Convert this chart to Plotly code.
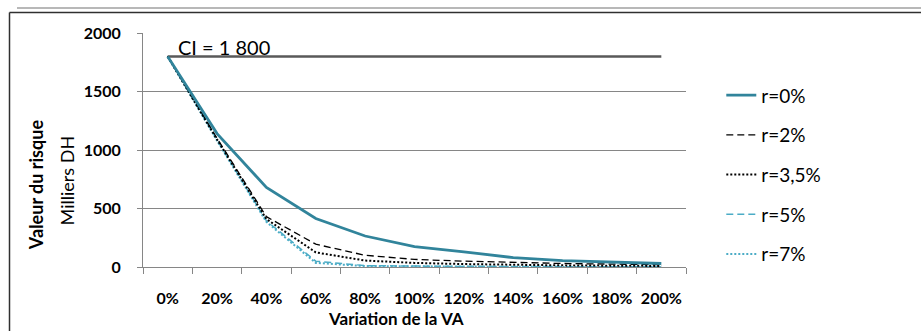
import plotly.graph_objects as go

# Categories (variation of VA) and risk values in thousands of DH
categories = ["0%", "20%", "40%", "60%", "80%", "100%", "120%", "140%", "160%", "180%", "200%"]
ci_value = 1800
r_0 = [1800, 1140, 680, 415, 265, 175, 130, 80, 55, 40, 30]
r_2 = [1800, 1100, 430, 195, 100, 65, 50, 38, 30, 25, 20]
r_35 = [1800, 1090, 410, 125, 55, 35, 25, 18, 14, 11, 9]
r_5 = [1800, 1085, 395, 50, 12, 6, 4, 3, 2, 2, 1]
r_7 = [1800, 1080, 385, 35, 8, 4, 3, 2, 1, 1, 1]
series_names = ["r=0%", "r=2%", "r=3,5%", "r=5%", "r=7%"]

TEAL = "#31849B"
LIGHT = "#4BACC6"
GRID = "#868686"
FONT = "Lato"

styles = [
    dict(color=TEAL, width=2.8, dash="solid"),
    dict(color="#000000", width=1.3, dash="7px,4px"),
    dict(color="#000000", width=2, dash="2px,2px"),
    dict(color=LIGHT, width=1.5, dash="7px,4px"),
    dict(color=LIGHT, width=2, dash="2px,2px"),
]

fig = go.Figure()

# Horizontal CI reference line
fig.add_trace(go.Scatter(
    x=categories, y=[ci_value] * len(categories), mode="lines",
    line=dict(color="#595959", width=2.5), showlegend=False, hoverinfo="skip",
))

# Draw the lightest series first so the teal r=0% stays on top
for idx in [4, 3, 2, 1, 0]:
    values = [r_0, r_2, r_35, r_5, r_7][idx]
    fig.add_trace(go.Scatter(
        x=categories, y=values, mode="lines", name=series_names[idx],
        line=styles[idx], legendgroup=series_names[idx], legendrank=idx,
    ))

fig.add_annotation(
    x=categories[0], y=ci_value, xref="x", yref="y", text="CI = 1 800",
    showarrow=False, xanchor="left", yanchor="bottom", xshift=8, yshift=-5,
    font=dict(family=FONT, size=20, color="#000000"),
)

# Axis titles
fig.add_annotation(
    x=-0.197, y=0.35, xref="paper", yref="paper", text="<b>Valeur du risque</b>",
    xanchor="center", yanchor="middle",
    showarrow=False, textangle=-90, font=dict(family=FONT, size=18, color="#000000"),
)
fig.add_annotation(
    x=-0.14, y=0.37, xref="paper", yref="paper", text="Milliers DH",
    xanchor="center", yanchor="middle",
    showarrow=False, textangle=-90, font=dict(family=FONT, size=18, color="#000000"),
)
fig.add_annotation(
    x=0.466, y=-0.22, xref="paper", yref="paper", text="<b>Variation de la VA</b>",
    xanchor="center", yanchor="middle",
    showarrow=False, font=dict(family=FONT, size=17, color="#000000"),
)

# Page frame lines around the chart
def px_x(p):
    return (p - 143) / 543

def px_y(p):
    return (267 - p) / 234

fig.add_shape(type="line", xref="paper", yref="paper", x0=px_x(17), x1=px_x(925),
              y0=px_y(8), y1=px_y(8), line=dict(color="#A0A0A0", width=1.5))
fig.add_shape(type="line", xref="paper", yref="paper", x0=px_x(9.5), x1=px_x(925),
              y0=px_y(12.5), y1=px_y(12.5), line=dict(color="#303030", width=1.5))
fig.add_shape(type="line", xref="paper", yref="paper", x0=px_x(9.5), x1=px_x(9.5),
              y0=px_y(12.5), y1=px_y(340), line=dict(color="#303030", width=1.5))

fig.update_layout(
    width=921, height=331,
    margin=dict(l=143, r=235, t=33, b=64, autoexpand=False),
    paper_bgcolor="white", plot_bgcolor="white",
    font=dict(family=FONT, color="#000000"),
    legend=dict(
        x=1.065, y=0.815, xanchor="left", yanchor="top",
        font=dict(family=FONT, size=19, color="#000000"),
        tracegroupgap=12, traceorder="grouped", bgcolor="rgba(0,0,0,0)",
    ),
    xaxis=dict(
        type="category", categoryorder="array", categoryarray=categories,
        range=[-0.5, len(categories) - 0.5], automargin=False,
        showgrid=False, showline=True, linecolor=GRID, linewidth=1,
        ticks="outside", tickson="boundaries", ticklen=6, tickcolor=GRID,
        tickangle=0,
        tickfont=dict(family=FONT, size=16, color="#000000", weight="bold"),
        ticklabelstandoff=17,
    ),
    yaxis=dict(
        range=[0, 2000], tickvals=[0, 500, 1000, 1500, 2000], automargin=False,
        showgrid=True, gridcolor=GRID, gridwidth=1,
        showline=True, linecolor=GRID, linewidth=1,
        ticks="outside", ticklen=5, tickcolor=GRID,
        tickfont=dict(family=FONT, size=16, color="#000000", weight="bold"),
        ticklabelstandoff=13, zeroline=False,
    ),
)

fig.write_html("out.html")
